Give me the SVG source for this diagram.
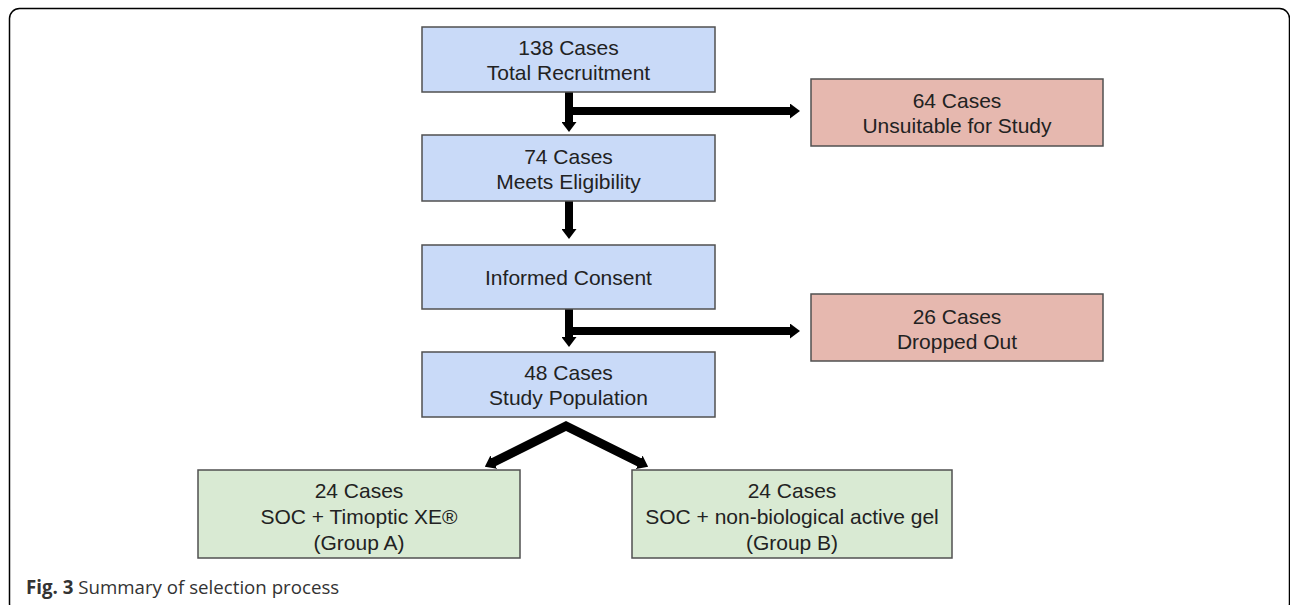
<svg xmlns="http://www.w3.org/2000/svg" width="1290" height="605" viewBox="0 0 1290 605">
<style>
.box{stroke:#505050;stroke-width:1.5}
.blue{fill:#c9daf8}
.pink{fill:#e6b8af}
.green{fill:#d9ead3}
.t{font-family:"Liberation Sans",Arial,sans-serif;font-size:21px;fill:#222;text-anchor:middle}
.c{fill:none;stroke:#000;stroke-width:8}
.cap{font-family:"Open Sans","Noto Sans",sans-serif;font-size:18.7px;fill:#333}
</style>
<defs>
<marker id="ah" markerUnits="userSpaceOnUse" viewBox="0 0 10 15" markerWidth="10" markerHeight="15" refX="1" refY="7.5" orient="auto-start-reverse">
<path d="M0,0 L10,7.5 L0,15 z" fill="#000"/>
</marker>
</defs>
<rect x="9.5" y="8.5" width="1280" height="605" rx="10" ry="10" fill="#fff" stroke="#000" stroke-width="1.5"/>
<g id="connectors">
<path class="c" d="M569,92 V123" marker-end="url(#ah)"/>
<path class="c" d="M569,111 H791" marker-end="url(#ah)"/>
<path class="c" d="M569,201 V230" marker-end="url(#ah)"/>
<path class="c" d="M569,309 V338" marker-end="url(#ah)"/>
<path class="c" d="M569,331 H791" marker-end="url(#ah)"/>
<path class="c" style="stroke-width:9;stroke-linejoin:miter" d="M492.9,462.6 L566,426 L640.1,462.7" marker-start="url(#ah)" marker-end="url(#ah)"/>
</g>
<g id="n1"><rect class="box blue" x="422" y="27" width="293" height="65"/><text class="t" x="568.5" y="55">138 Cases</text><text class="t" x="568.5" y="79.5">Total Recruitment</text></g>
<g id="n2"><rect class="box pink" x="811" y="79" width="292" height="67"/><text class="t" x="957" y="107.5">64 Cases</text><text class="t" x="957" y="132.5">Unsuitable for Study</text></g>
<g id="n3"><rect class="box blue" x="422" y="135" width="293" height="66"/><text class="t" x="568.5" y="163.5">74 Cases</text><text class="t" x="568.5" y="188.5">Meets Eligibility</text></g>
<g id="n4"><rect class="box blue" x="422" y="245" width="293" height="64"/><text class="t" x="568.5" y="284.5">Informed Consent</text></g>
<g id="n5"><rect class="box pink" x="811" y="294" width="292" height="67"/><text class="t" x="957" y="324">26 Cases</text><text class="t" x="957" y="348.5">Dropped Out</text></g>
<g id="n6"><rect class="box blue" x="422" y="352" width="293" height="65"/><text class="t" x="568.5" y="379.5">48 Cases</text><text class="t" x="568.5" y="404.5">Study Population</text></g>
<g id="n7"><rect class="box green" x="198" y="470" width="322" height="88"/><text class="t" x="359" y="497.5">24 Cases</text><text class="t" x="359" y="523.5">SOC + Timoptic XE®</text><text class="t" x="359" y="549.5">(Group A)</text></g>
<g id="n8"><rect class="box green" x="632" y="470" width="320" height="88"/><text class="t" x="792" y="497.5">24 Cases</text><text class="t" x="792" y="523.5">SOC + non-biological active gel</text><text class="t" x="792" y="549.5">(Group B)</text></g>
<text class="cap" x="26" y="594"><tspan font-weight="bold">Fig. 3</tspan> Summary of selection process</text>
</svg>
